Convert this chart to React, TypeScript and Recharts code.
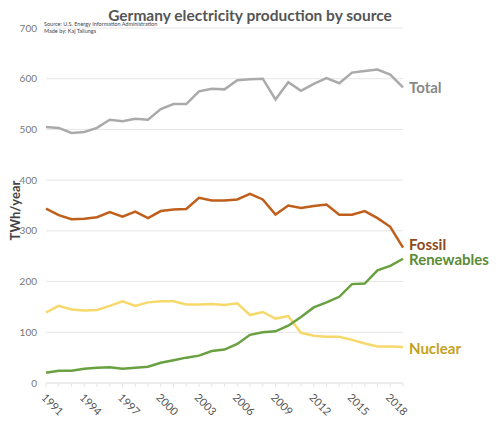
import { LineChart, Line, XAxis, YAxis, CartesianGrid, LabelList } from 'recharts';

// Values (TWh/year)
const years = [
  1991, 1992, 1993, 1994, 1995, 1996, 1997, 1998, 1999, 2000,
  2001, 2002, 2003, 2004, 2005, 2006, 2007, 2008, 2009, 2010,
  2011, 2012, 2013, 2014, 2015, 2016, 2017, 2018, 2019,
];
const total = [
  505, 503, 493, 495, 503, 519, 516, 521, 519, 540,
  550, 550, 575, 580, 579, 597, 599, 600, 559, 593,
  576, 590, 601, 591, 612, 615, 618, 608, 583,
];
const fossil = [
  344, 331, 323, 324, 327, 337, 328, 338, 325, 339,
  342, 343, 365, 360, 360, 362, 373, 362, 332, 350,
  345, 349, 352, 332, 332, 339, 325, 308, 267,
];
const renewables = [
  20, 24, 24, 28, 30, 31, 28, 30, 32, 40,
  45, 50, 54, 63, 66, 77, 95, 100, 102, 113,
  130, 149, 159, 170, 195, 196, 222, 231, 245,
];
const nuclear = [
  139, 152, 145, 143, 144, 152, 161, 152, 159, 161,
  161, 155, 155, 156, 154, 157, 134, 140, 127, 132,
  99, 93, 91, 91, 85, 78, 72, 72, 71,
];
const yTicks = [0, 100, 200, 300, 400, 500, 600, 700];

const data = years.map((year, i) => ({
  year,
  total: total[i],
  fossil: fossil[i],
  renewables: renewables[i],
  nuclear: nuclear[i],
}));

const FONT = 'Lato, "Open Sans", sans-serif';
const lastIndex = years.length - 1;

const endLabel = (text: string, color: string, dy: number) => (props: any) => {
  if (props.index !== lastIndex) return null;
  return (
    <text
      x={props.x + 6}
      y={props.y + dy}
      fill={color}
      fontFamily={FONT}
      fontWeight={700}
      fontSize={15}
      dominantBaseline="central"
    >
      {text}
    </text>
  );
};

const YearTick = (props: any) => {
  const { x, y, payload } = props;
  if ((payload.value - 1991) % 3 !== 0) return null;
  return (
    <text
      x={x - 2}
      y={y + 6}
      transform={`rotate(45 ${x - 2} ${y + 6})`}
      fill="#555"
      fontFamily={FONT}
      fontSize={11}
      textAnchor="start"
      dominantBaseline="central"
    >
      {payload.value}
    </text>
  );
};

export default function App() {
  return (
    <div style={{ position: 'relative', width: 500, height: 424, background: '#fff' }}>
      <style>{'body{margin:0}'}</style>
      <div
        style={{
          position: 'absolute',
          top: 6,
          left: 0,
          width: 500,
          textAlign: 'center',
          fontFamily: FONT,
          fontWeight: 700,
          fontSize: 15.5,
          color: '#555',
        }}
      >
        Germany electricity production by source
      </div>
      <div
        style={{
          position: 'absolute',
          top: 21,
          left: 44,
          fontFamily: FONT,
          fontSize: 5.5,
          lineHeight: '6.5px',
          color: '#444',
        }}
      >
        Source: U.S. Energy Information Administration
        <br />
        Made by: Kaj Tallungs
      </div>
      <LineChart
        width={500}
        height={424}
        data={data}
        margin={{ top: 28, right: 97, bottom: 0, left: 0 }}
      >
        <CartesianGrid vertical={false} stroke="#e6e6e6" />
        <XAxis
          dataKey="year"
          type="number"
          domain={[1991, 2019]}
          ticks={years}
          interval={0}
          height={41}
          stroke="#e6e6e6"
          tickSize={4}
          tick={<YearTick />}
        />
        <YAxis
          domain={[0, 700]}
          ticks={yTicks}
          width={46}
          axisLine={false}
          tickLine={false}
          tickSize={0}
          tickMargin={9}
          tick={{ fill: '#777', fontSize: 10, fontFamily: FONT }}
          label={{
            value: 'TWh/year',
            angle: -90,
            position: 'insideLeft',
            dx: 10,
            dy: 5,
            style: { fill: '#444', fontSize: 13, fontWeight: 700, fontFamily: FONT, textAnchor: 'middle' },
          }}
        />
        <Line dataKey="total" stroke="#aaaaaa" strokeWidth={2.5} dot={false} isAnimationActive={false}>
          <LabelList content={endLabel('Total', '#888888', 0)} />
        </Line>
        <Line dataKey="fossil" stroke="#bf5f1b" strokeWidth={2.5} dot={false} isAnimationActive={false}>
          <LabelList content={endLabel('Fossil', '#8e4a1c', -4)} />
        </Line>
        <Line dataKey="nuclear" stroke="#f7d86a" strokeWidth={2.5} dot={false} isAnimationActive={false}>
          <LabelList content={endLabel('Nuclear', '#c4a11f', 1)} />
        </Line>
        <Line dataKey="renewables" stroke="#69a040" strokeWidth={2.5} dot={false} isAnimationActive={false}>
          <LabelList content={endLabel('Renewables', '#5b8c35', 0)} />
        </Line>
      </LineChart>
    </div>
  );
}
